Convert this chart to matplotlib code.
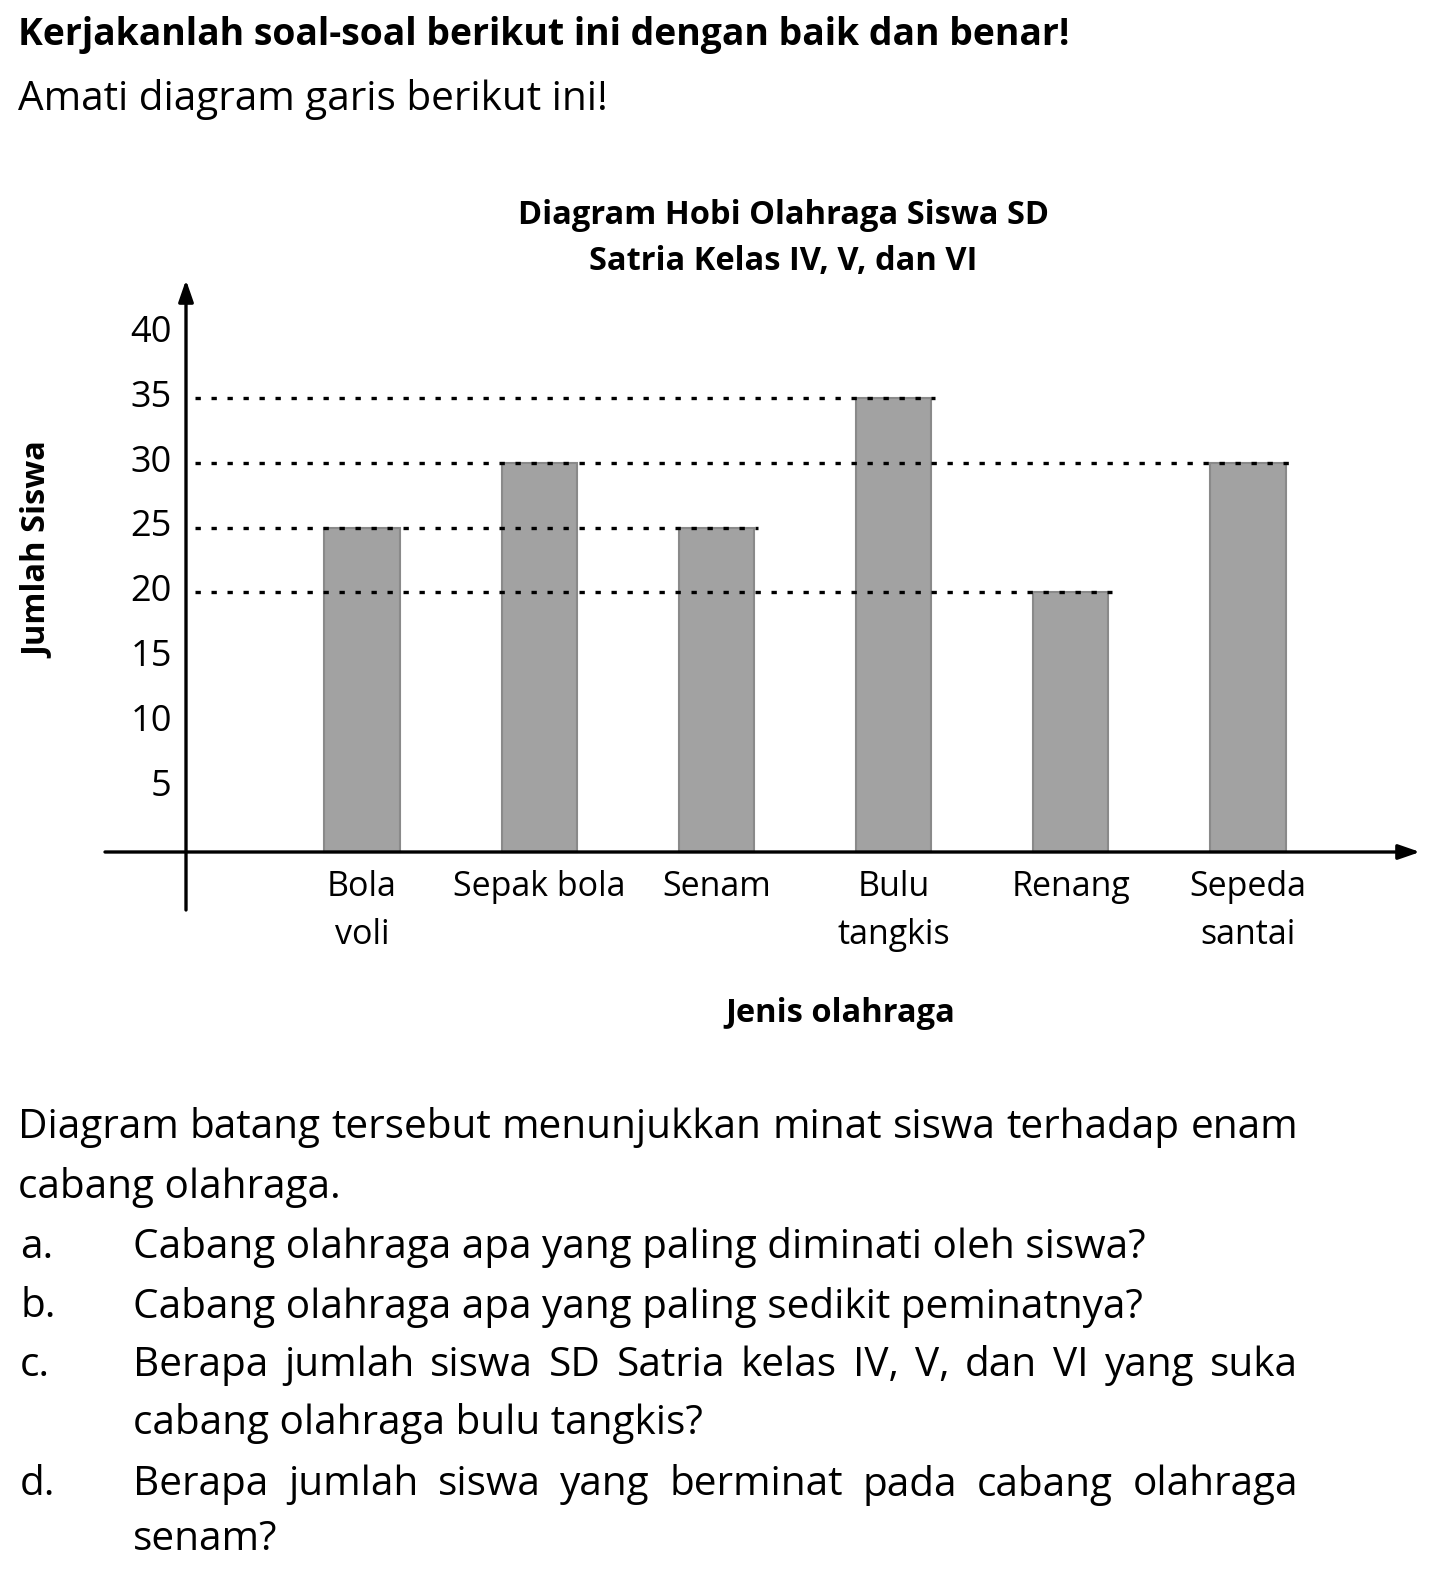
import matplotlib.pyplot as plt

plt.rcParams['font.family'] = ['Open Sans', 'DejaVu Sans']

# data
categories = ["Bola\nvoli", "Sepak bola", "Senam", "Bulu\ntangkis", "Renang", "Sepeda\nsantai"]
jumlah = [25, 30, 25, 35, 20, 30]
y_ticks = [5, 10, 15, 20, 25, 30, 35, 40]
guide_levels = [20, 25, 30, 35]

W, H = 1441, 1573
FS = 29.2  # ukuran huruf teks soal


def fx(x):
    return x / W


def fy(y):
    return 1 - y / H


fig = plt.figure(figsize=(W / 100, H / 100), dpi=100)
renderer = fig.canvas.get_renderer()


def justified(x_left, x_right, y, s, **kw):
    # taruh kata per kata supaya rata kiri-kanan
    words = s.split()
    texts = [fig.text(0, fy(y), w, ha='left', va='center', **kw) for w in words]
    widths = [t.get_window_extent(renderer).width for t in texts]
    gap = (x_right - x_left - sum(widths)) / (len(words) - 1)
    x = x_left
    for t, w in zip(texts, widths):
        t.set_x(fx(x))
        x += w + gap


# teks soal bagian atas
fig.text(fx(18), fy(35), "Kerjakanlah soal-soal berikut ini dengan baik dan benar!",
         fontsize=26.9, fontweight='bold', va='center', ha='left')
fig.text(fx(18), fy(100), "Amati diagram garis berikut ini!",
         fontsize=FS, va='center', ha='left')

# axes untuk diagram batang
ax = fig.add_axes([fx(105), fy(910), (1420 - 105) / W, (910 - 280) / H])
x0, x1 = (105 - 362) / 177.2, (1420 - 362) / 177.2
y0, y1 = -(910 - 852) / 12.98, (852 - 280) / 12.98
ax.set_xlim(x0, x1)
ax.set_ylim(y0, y1)
ax.axis('off')

xs = list(range(len(categories)))
bw = 0.425
ax.bar(xs, jumlah, width=bw, color='#a2a2a2', edgecolor='#8a8a8a', linewidth=1.5, zorder=2)

yaxis_x = (186 - 362) / 177.2
# garis putus-putus bantu
for lv in guide_levels:
    last = max(i for i, v in enumerate(jumlah) if v == lv)
    ax.plot([yaxis_x + 0.05, last + bw / 2 + 0.02], [lv, lv], color='black',
            linestyle=(0, (1.6, 3.2)), linewidth=2.4, zorder=3)

# sumbu dengan panah
ax.annotate('', xy=(yaxis_x, y1), xytext=(yaxis_x, y0),
            arrowprops=dict(arrowstyle='-|>,head_length=1.3,head_width=0.45',
                            color='black', lw=2.4, shrinkA=0, shrinkB=0), zorder=4)
ax.annotate('', xy=(x1, 0), xytext=(x0, 0),
            arrowprops=dict(arrowstyle='-|>,head_length=1.3,head_width=0.45',
                            color='black', lw=2.4, shrinkA=0, shrinkB=0), zorder=4)

# label sumbu y
for t in y_ticks:
    ax.text(yaxis_x - 0.08, t, str(t), ha='right', va='center', fontsize=26)

# label kategori
for i, c in enumerate(categories):
    ax.text(i, -1.35, c, ha='center', va='top', fontsize=24.5, linespacing=1.55)

fig.text(fx(38), fy(550), "Jumlah Siswa", rotation=90, fontsize=23.5,
         fontweight='bold', ha='center', va='center')
fig.text(fx(783), fy(215), "Diagram Hobi Olahraga Siswa SD", fontsize=23.5,
         fontweight='bold', ha='center', va='center')
fig.text(fx(783), fy(262), "Satria Kelas IV, V, dan VI", fontsize=23.5,
         fontweight='bold', ha='center', va='center')
fig.text(fx(840), fy(1013), "Jenis olahraga", fontsize=23.5,
         fontweight='bold', ha='center', va='center')

# teks soal bagian bawah
justified(18, 1298, 1128, "Diagram batang tersebut menunjukkan minat siswa terhadap enam", fontsize=FS)
fig.text(fx(18), fy(1188), "cabang olahraga.", fontsize=FS, ha='left', va='center')
fig.text(fx(133), fy(1248), "Cabang olahraga apa yang paling diminati oleh siswa?",
         fontsize=FS, ha='left', va='center')
fig.text(fx(133), fy(1307), "Cabang olahraga apa yang paling sedikit peminatnya?",
         fontsize=FS, ha='left', va='center')
justified(133, 1298, 1366, "Berapa jumlah siswa SD Satria kelas IV, V, dan VI yang suka", fontsize=FS)
fig.text(fx(133), fy(1424), "cabang olahraga bulu tangkis?", fontsize=FS, ha='left', va='center')
justified(133, 1298, 1485, "Berapa jumlah siswa yang berminat pada cabang olahraga", fontsize=FS)
fig.text(fx(133), fy(1540), "senam?", fontsize=FS, ha='left', va='center')

for y, s in [(1248, "a."), (1307, "b."), (1366, "c."), (1485, "d.")]:
    fig.text(fx(20), fy(y), s, fontsize=FS, ha='left', va='center')

fig.savefig("out.png", dpi=100)
